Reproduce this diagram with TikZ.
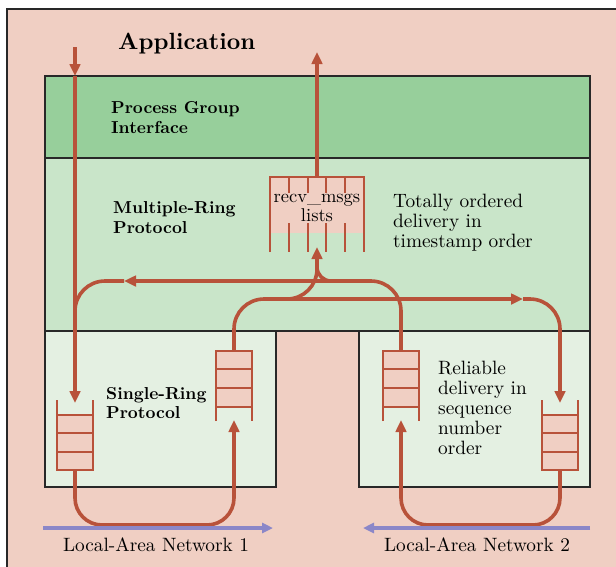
\documentclass[tikz,border=0pt]{standalone}
\usepackage{fontspec}
% one design size for every text size
\setmainfont{lmroman10-regular}[Extension=.otf,BoldFont=lmroman10-bold,ItalicFont=lmroman10-italic,BoldItalicFont=lmroman10-bolditalic]
\usetikzlibrary{arrows.meta}
\definecolor{bgpink}{RGB}{240,207,195}
\definecolor{pgigreen}{RGB}{151,207,155}
\definecolor{mrpgreen}{RGB}{201,229,201}
\definecolor{srpgreen}{RGB}{228,240,226}
\definecolor{flowred}{RGB}{184,82,58}
\definecolor{lanblue}{RGB}{139,135,200}
\definecolor{boxline}{RGB}{40,40,40}
\tikzset{
  inqueue/.pic={
    \fill[bgpink] (-18,15) rectangle (18,70);
    \draw[qline] (-18,0) -- (-18,70) -- (18,70) -- (18,0);
    \foreach \yy in {15,33,52} \draw[qline] (-18,\yy) -- (18,\yy);
    \coordinate (-in) at (0,3);
    \coordinate (-out) at (0,70);
  },
  outqueue/.pic={
    \fill[bgpink] (-18,0) rectangle (18,56);
    \draw[qline] (-18,70) -- (-18,0) -- (18,0) -- (18,70);
    \foreach \yy in {18,37,56} \draw[qline] (-18,\yy) -- (18,\yy);
    \coordinate (-out) at (0,0);
    \coordinate (-in) at (0,69);
  },
}
\begin{document}
\begin{tikzpicture}[x=1pt,y=-1pt,
  layerbox/.style={draw=boxline,line width=1.3pt,anchor=north west,inner sep=0pt,outer sep=0pt},
  flow/.style={draw=flowred,line width=3.6pt,rounded corners=30pt},
  tip/.style={-{Triangle[length=12pt,width=10.5pt]}},
  qline/.style={draw=flowred,line width=2pt},
  lan/.style={draw=lanblue,line width=3.4pt,-{Triangle[length=11pt,width=10pt]}},
  boldlbl/.style={font=\fontsize{17.3}{20}\selectfont\bfseries,align=left,inner sep=0pt,anchor=base west},
  plainlbl/.style={font=\fontsize{19.3}{20}\selectfont,align=left,inner sep=0pt,anchor=base west},
]
\useasboundingbox (0,0) rectangle (616,566);
\clip (0,0) rectangle (616,566);
\fill[white] (0,0) rectangle (616,566);
\draw[draw=boxline,line width=1.3pt,fill=bgpink] (7,9) rectangle (640,590);

% protocol layers
\node[layerbox,fill=pgigreen,minimum width=545pt,minimum height=82pt] (pgi) at (45,76) {};
\node[layerbox,fill=mrpgreen,minimum width=545pt,minimum height=173pt] (mrp) at (45,158) {};
\node[layerbox,fill=srpgreen,minimum width=231pt,minimum height=156pt] (srp) at (45,331) {};
\node[layerbox,fill=srpgreen,minimum width=231pt,minimum height=156pt] (rel) at (359,331) {};

% labels (a multi-line node sits on the baseline of its last line)
\node[font=\fontsize{23.5}{26}\selectfont\bfseries,anchor=base west,inner sep=0pt] (app) at (118,49) {Application};
\node[boldlbl] (pgilbl) at (111,133) {Process Group\\Interface};
\node[boldlbl] (mrplbl) at (113,233) {Multiple-Ring\\Protocol};
\node[boldlbl,font=\fontsize{17.3}{19}\selectfont\bfseries] (srplbl) at (106,418) {Single-Ring\\Protocol};
\node[plainlbl] (tolbl) at (393,247) {Totally ordered\\delivery in\\timestamp order};
\node[plainlbl] (rellbl) at (438,454) {Reliable\\delivery in\\sequence\\number\\order};

% message queues
\pic (qa) at (75,400) {inqueue};
\pic (qb) at (234,351) {outqueue};
\pic (qc) at (401,351) {outqueue};
\pic (qd) at (560,400) {inqueue};

% recv_msgs lists
\fill[bgpink] (270,177) rectangle (364,233);
\draw[qline] (270,252) -- (270,177) -- (364,177) -- (364,252);
\foreach \xx in {289,308,326,345} \draw[qline] (\xx,177) -- (\xx,252);
\node[fill=bgpink,inner sep=1.5pt,align=center,font=\fontsize{18.5}{18.5}\selectfont] (recv) at (317,208) {recv\_msgs\\lists};

% named points of the message paths
\coordinate (appin) at (75,47);
\coordinate (pgitop) at (75,76);
\coordinate (rtop) at (317,177);
\coordinate (appout) at (317,52);
\coordinate (uR) at (401,281);
\coordinate (uL) at (75,281);
\coordinate (uArrow) at (124,281);
\coordinate (uJoin) at (75,345);
\coordinate (lL) at (234,299);
\coordinate (lR) at (560,299);
\coordinate (lArrow) at (523,299);
\coordinate (rbr) at (345,281);
\coordinate (rjoin) at (317,281);
\coordinate (rin) at (317,247);
\coordinate (lbr) at (270,299);
\coordinate (bjoin) at (317,299);
\coordinate (rsplit) at (317,262);
\coordinate (aL) at (75,525);
\coordinate (aR) at (234,525);
\coordinate (bR) at (560,525);
\coordinate (bL) at (401,525);

% message flow
\draw[flow,tip] (appin) -- (pgitop);
\draw[flow,tip] (pgitop) -- (qa-in);
\draw[flow,tip] (rtop) -- (appout);
\draw[flow,tip] (qc-out) -- (uR) -- (uArrow);
\draw[flow] (uArrow) -- (uL) -- (uJoin);
\draw[flow,tip] (qb-out) -- (lL) -- (lArrow);
\draw[flow,tip] (lArrow) -- (lR) -- (qd-in);
\draw[flow,rounded corners=14pt,tip] (rbr) -- (rjoin) -- (rin);
\draw[flow] (lbr) -- (bjoin) -- (rsplit);
\draw[flow,rounded corners=27pt,tip] (qa-out) -- (aL) -- (aR) -- (qb-in);
\draw[flow,rounded corners=27pt,tip] (qd-out) -- (bR) -- (bL) -- (qc-in);

% local-area networks
\coordinate (lan1s) at (43,528);
\coordinate (lan1e) at (273,528);
\coordinate (lan2s) at (590,528);
\coordinate (lan2e) at (363,528);
\draw[lan] (lan1s) -- (lan1e);
\draw[lan] (lan2s) -- (lan2e);
\node[plainlbl,anchor=base] (lan1) at (156,551) {Local-Area Network 1};
\node[plainlbl,anchor=base] (lan2) at (477,551) {Local-Area Network 2};
\end{tikzpicture}
\end{document}
